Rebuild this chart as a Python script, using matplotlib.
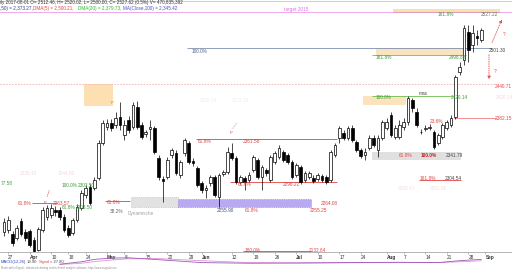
import matplotlib
matplotlib.use("Agg")
import matplotlib.pyplot as plt
from matplotlib.patches import Rectangle
import pandas as pd

plt.rcParams['font.family'] = ['Liberation Sans', 'DejaVu Sans']

# trading days, exchange closed on Easter and May day
holidays = ['2017-04-14', '2017-04-17', '2017-05-01']
all_days = pd.bdate_range('2017-03-24', '2017-09-08')
all_days = all_days[~all_days.isin(pd.to_datetime(holidays))]

opens = [2218, 2221, 2215, 2209, 2235, 2218, 2219, 2206, 2191, 2221, 2241, 2244, 2251, 2251, 2241, 2224,
         2216, 2236, 2254, 2274, 2286, 2285, 2300, 2354, 2378, 2384, 2381, 2393, 2366, 2389, 2378, 2409,
         2381, 2368, 2375, 2377, 2331, 2299, 2302, 2335, 2338, 2305, 2338, 2354, 2326, 2316, 2293, 2282,
         2293, 2302, 2271, 2306, 2309, 2338, 2331, 2294, 2300, 2297, 2312, 2328, 2302, 2312, 2297, 2325,
         2332, 2340, 2335, 2325, 2305, 2317, 2297, 2302, 2300, 2299, 2303, 2302, 2297, 2335, 2361, 2369,
         2361, 2377, 2355, 2343, 2335, 2346, 2361, 2343, 2361, 2377, 2396, 2363, 2363, 2378, 2386, 2419,
         2401, 2371, 2375, 2377, 2370, 2354, 2363, 2376, 2381, 2393, 2462, 2480, 2523, 2503, 2517, 2511]
highs = [2239, 2242, 2220, 2228, 2239, 2222, 2222, 2210, 2225, 2256, 2259, 2260, 2257, 2256, 2245, 2228,
         2239, 2261, 2282, 2290, 2291, 2302, 2358, 2389, 2390, 2390, 2401, 2416, 2389, 2395, 2416, 2418,
         2386, 2374, 2389, 2380, 2335, 2303, 2332, 2346, 2343, 2328, 2361, 2357, 2331, 2319, 2296, 2290,
         2305, 2305, 2308, 2312, 2348, 2354, 2334, 2305, 2303, 2309, 2335, 2331, 2320, 2315, 2335, 2341,
         2351, 2343, 2338, 2328, 2323, 2320, 2311, 2311, 2305, 2308, 2306, 2305, 2343, 2354, 2380, 2374,
         2380, 2381, 2358, 2346, 2346, 2366, 2366, 2366, 2389, 2392, 2401, 2381, 2389, 2392, 2425, 2422,
         2407, 2375, 2381, 2382, 2373, 2369, 2384, 2389, 2396, 2457, 2477, 2534, 2534, 2534, 2526, 2529]
lows = [2212, 2216, 2196, 2206, 2212, 2204, 2195, 2188, 2189, 2218, 2236, 2239, 2242, 2236, 2218, 2210,
        2213, 2233, 2251, 2270, 2259, 2282, 2297, 2350, 2374, 2372, 2377, 2374, 2358, 2369, 2375, 2375,
        2360, 2363, 2358, 2337, 2297, 2264, 2299, 2331, 2305, 2300, 2334, 2322, 2319, 2287, 2277, 2270,
        2288, 2271, 2256, 2303, 2306, 2328, 2291, 2291, 2282, 2294, 2309, 2299, 2282, 2303, 2294, 2322,
        2329, 2325, 2322, 2299, 2302, 2291, 2294, 2299, 2293, 2296, 2294, 2291, 2294, 2332, 2354, 2358,
        2358, 2355, 2340, 2331, 2328, 2343, 2348, 2332, 2358, 2374, 2363, 2360, 2360, 2374, 2381, 2401,
        2378, 2367, 2372, 2373, 2345, 2351, 2360, 2373, 2378, 2390, 2457, 2473, 2477, 2493, 2503, 2508]
closes = [2233, 2236, 2201, 2224, 2215, 2209, 2198, 2189, 2222, 2251, 2254, 2254, 2248, 2241, 2221, 2213,
          2236, 2256, 2277, 2285, 2262, 2297, 2354, 2384, 2384, 2377, 2392, 2381, 2381, 2374, 2412, 2378,
          2363, 2370, 2378, 2340, 2302, 2296, 2328, 2343, 2308, 2325, 2358, 2325, 2323, 2290, 2282, 2285,
          2302, 2274, 2305, 2309, 2340, 2331, 2294, 2302, 2294, 2305, 2332, 2302, 2317, 2308, 2332, 2338,
          2346, 2328, 2325, 2302, 2320, 2294, 2308, 2308, 2296, 2305, 2297, 2294, 2340, 2351, 2377, 2361,
          2377, 2358, 2343, 2334, 2340, 2361, 2351, 2361, 2386, 2386, 2366, 2377, 2381, 2386, 2422, 2407,
          2381, 2370, 2377, 2378, 2348, 2366, 2381, 2386, 2392, 2454, 2470, 2529, 2496, 2522, 2514, 2526]

tick_days = ['2017-03-27', '2017-04-03', '2017-04-10', '2017-04-18', '2017-04-24', '2017-05-02',
             '2017-05-08', '2017-05-15', '2017-05-22', '2017-05-29', '2017-06-01', '2017-06-12',
             '2017-06-19', '2017-06-26', '2017-07-03', '2017-07-10', '2017-07-17', '2017-07-24',
             '2017-08-01', '2017-08-07', '2017-08-14', '2017-08-21', '2017-08-28', '2017-09-01']
tick_labels = ['27', 'Apr', '10', '18', '24', 'May', '8', '15', '22', '29', 'Jun', '12', '19', '26',
               'Jul', '10', '17', '24', 'Aug', '7', '14', '21', '28', 'Sep']

# fib / target levels drawn as segments
level_prices = [2553.7, 2498.7, 2488.0, 2425.4, 2391.9, 2359.8, 2297.2, 2294.1, 2262.0, 2265.1, 2188.8]
level_from = ['2017-08-03', '2017-05-29', '2017-07-27', '2017-07-27', '2017-08-23', '2017-05-31',
              '2017-08-11', '2017-06-12', '2017-04-04', '2017-05-02', '2017-06-15']
level_to = ['2017-09-06', '2017-09-04', '2017-08-25', '2017-08-22', '2017-09-05', '2017-07-14',
            '2017-08-24', '2017-07-14', '2017-04-11', '2017-05-09', '2017-07-06']
target_price = 2553.0
resist_price = 2443.8

# shaded zones
box_lo = [2410.2, 2256.0, 2256.0, 2327.7, 2411.7, 2488.0, 2553.7]
box_hi = [2443.8, 2271.2, 2268.2, 2339.9, 2425.4, 2498.7, 2558.5]
box_from = ['2017-04-24', '2017-05-10', '2017-05-25', '2017-07-27', '2017-07-25', '2017-07-28', '2017-08-03']
box_to = ['2017-05-03', '2017-05-24', '2017-07-06', '2017-08-24', '2017-08-07', '2017-08-25', '2017-09-06']

macd_days = ['2017-04-12', '2017-04-21', '2017-04-26', '2017-05-03', '2017-05-09', '2017-05-18',
             '2017-06-01', '2017-06-16', '2017-07-04', '2017-07-19', '2017-08-04', '2017-08-17',
             '2017-08-24', '2017-08-31']
macd_vals = [-10, 5, 20, 28, 30, 18, 0, -4, -2, 0, 2, 0, 12, 20]
signal_vals = [-12, -4, 6, 16, 24, 25, 12, 0, -3, -1, 1, 1, 5, 12]


def pos(d):
    return all_days.get_loc(pd.Timestamp(d))


RED = '#e04444'
GREEN = '#3c9c3c'
W, H = 512, 270

fig = plt.figure(figsize=(W / 100, H / 100), dpi=100)
fig.patch.set_facecolor('white')
ax = fig.add_axes([0, 18 / H, 1, 244 / H])
ax.set_xlim(-3.9 / 4.3, (W - 3.9) / 4.3)
ax.set_ylim(2187.3, 2559.8)
ax.set_facecolor('white')
for s in ['top', 'left', 'right']:
    ax.spines[s].set_visible(False)
ax.spines['bottom'].set_color('#999999')
ax.spines['bottom'].set_linewidth(0.5)
ax.set_yticks([])

box_styles = [dict(fc='#fde0b2', ec='none'),
              dict(fc='#e2e2e2', ec='#b0b0b0', ls=':'),
              dict(fc='#b9a9f3', ec='#8c70e0', ls=':'),
              dict(fc='#e0e0e0', ec='none'),
              dict(fc='#fbe3bd', ec='none'),
              dict(fc='#fae4c0', ec='none'),
              dict(fc='#f8dfb0', ec='none')]
for lo, hi, a, b, st in zip(box_lo, box_hi, box_from, box_to, box_styles):
    x0 = pos(a) - 0.4
    x1 = pos(b) + 0.4
    ax.add_patch(Rectangle((x0, lo), x1 - x0, hi - lo, lw=0.5, zorder=1, **st))

level_colors = ['#b6c64a', '#7e90b0', '#6cbf4c', '#6cbf4c', '#f08080', RED, RED, RED, RED, RED, RED]
for p, a, b, c in zip(level_prices, level_from, level_to, level_colors):
    ax.hlines(p, pos(a) - 0.4, pos(b) + 0.4, color=c, lw=0.6, zorder=2)

ax.axhline(target_price, color='#e68ae6', lw=0.5, zorder=2)
ax.hlines(resist_price, ax.get_xlim()[0], pos('2017-09-05') + 0.4, color='#f0b4b4', lw=0.6,
          ls=(0, (2, 1.5)), zorder=2)

# candles
for i in range(len(closes)):
    o, h, l, c = opens[i], highs[i], lows[i], closes[i]
    ax.vlines(i, l, h, color='black', lw=0.5, zorder=3)
    up = c >= o
    ax.add_patch(Rectangle((i - 0.32, min(o, c)), 0.64, max(abs(c - o), 0.8),
                           facecolor='white' if up else 'black', edgecolor='black', lw=0.5, zorder=4))

ax.set_xticks([pos(d) for d in tick_days])
ax.set_xticklabels(tick_labels)
ax.tick_params(axis='x', length=1.5, width=0.4, color='#888888', pad=0.4, labelsize=3.4,
               labelcolor='#333333')
for lbl in ax.get_xticklabels():
    lbl.set_horizontalalignment('left')
    if not lbl.get_text().isdigit():
        lbl.set_fontweight('bold')


def put(px, py, s, color, size=3.4, **kw):
    fig.text(px / W, 1 - py / H, s, color=color, fontsize=size, va='center', zorder=10, **kw)


# header
put(0.5, 2.8, 'ily 2017-08-01 O= 2512.46, H= 2520.02, L= 2500.00, C= 2527.62 (0.5%) V= 470,835,392',
    '#333333', 3.3)
put(0.5, 8.2, ',50) = 2,373.27,', '#304080', 3.3)
put(33, 8.2, 'DMA(5) = 2,500.21,', RED, 3.3)
put(78, 8.2, 'DMA(20) = 2,379.73,', '#30b030', 3.3)
put(123, 8.2, 'MA(Close,100) = 2,345.42', '#5050c0', 3.3)

# level labels
put(284, 9.8, 'target 2015', '#e070e0')
put(438, 14.8, '161.8%', GREEN)
put(481, 14.8, '2527.22', '#607860')
put(192, 51.5, '100.0%', '#506080')
put(489, 50.5, '2501.30', '#444444')
put(376, 57.8, '161.8%', GREEN)
put(449, 57.8, '2498.88', GREEN)
put(495, 86.5, '2440.71', RED)
put(376, 97.8, '100.0%', GREEN)
put(419, 93.5, 'max', '#444444')
put(451, 97.8, '2420.14', GREEN)
put(496, 97.8, '2420.14', '#f6d8d8')
put(430, 121.5, '23.6%', RED)
put(495, 118.8, '2382.15', RED)
put(198, 141.5, '61.8%', RED)
put(243, 141.5, '2361.58', RED)
put(399, 155.5, '61.8%', RED)
put(421, 155.5, '100.0%', '#c02020', weight='bold')
put(446, 155.5, '2341.79', '#444444')
put(420, 178.3, '161.8%', RED)
put(445, 178.3, '2304.54', '#444444')
put(238, 184.5, '61.8%', RED)
put(283, 184.5, '2296.22', RED)
put(107, 202.5, '61.8%', RED)
put(110, 211.2, '38.2%', '#607060')
put(128, 213.2, 'Dynamische', '#a0a0a0')
put(217, 210.5, '2255.90', '#405080')
put(245, 210.5, '61.8%', RED)
put(310, 210.5, '2255.25', RED)
put(321, 203.5, '2264.08', RED)
put(245, 250.3, '180.0%', RED)
put(309, 250.3, '2132.64', RED)
put(18, 203.5, '61.8%', RED)
put(53, 203.5, '2263.57', RED)
put(62, 185.2, '100.0%', GREEN)
put(78, 185.2, '2303.50', GREEN)
put(62, 207.6, '61.8%', GREEN)
put(76, 207.6, '2303.50', GREEN)
put(0.5, 183.5, '77.58', GREEN)
put(20, 173.5, '2238.43', '#f4d8d8')
put(58, 173.5, '2244.80', '#f4d8d8')
put(200, 100.5, '2368.34', '#eeeeee')
put(232, 100.5, '2372.10', '#eeeeee')
put(398, 188.5, '2288.41', '#f6dcdc')
put(430, 188.5, '2291.06', '#f6dcdc')
put(503, 34, '?', RED)
put(494, 72, '?', RED)
put(110.5, 103, 'P', '#d08020', 3.0)
put(44, 202.5, 'P', RED, 3.0)
put(229.5, 133.5, 'P', RED, 3.0)

# dotted arrows
arrow = dict(arrowstyle='-|>', linestyle=':', color=RED, lw=0.6, mutation_scale=4)
ax.annotate('', xy=(503, H - 17), xytext=(491, H - 45), xycoords='figure pixels', arrowprops=arrow)
ax.annotate('', xy=(489, H - 82), xytext=(489, H - 52), xycoords='figure pixels', arrowprops=arrow)
ax.annotate('', xy=(46, H - 200), xytext=(50, H - 188), xycoords='figure pixels',
            arrowprops=dict(arrowstyle='-', linestyle=':', color=RED, lw=0.5))
ax.annotate('', xy=(231, H - 131), xytext=(238, H - 121), xycoords='figure pixels',
            arrowprops=dict(arrowstyle='-', linestyle=':', color='#c0a0a0', lw=0.5))

# top border
fig.add_artist(plt.Line2D([0, 1], [1 - 0.6 / H, 1 - 0.6 / H], color='#bbbbbb', lw=0.5))

# MACD pane
mx = fig.add_axes([0, 5 / H, 1, 8 / H])
mx.set_xlim(ax.get_xlim())
mx.set_ylim(-15, 35)
mx.axis('off')
mpos = [pos(d) for d in macd_days]
mx.plot(mpos, signal_vals, color='#e890d8', lw=0.6)
mx.plot(mpos, macd_vals, color='#9a5ab8', lw=0.6)
put(1, 262, 'MACD(12,26)', '#3040c0', 3.0)
put(27, 262, '19.90', '#444444', 3.0)
put(39, 262, 'Signal', RED, 3.0)
put(50, 262, '= 27.80', '#444444', 3.0)

put(1, 267.6, 'Made with eSignal - advanced charting and technical analysis software. http://www.esignal.com',
    '#909090', 2.0)

fig.savefig('out.png', dpi=100)
